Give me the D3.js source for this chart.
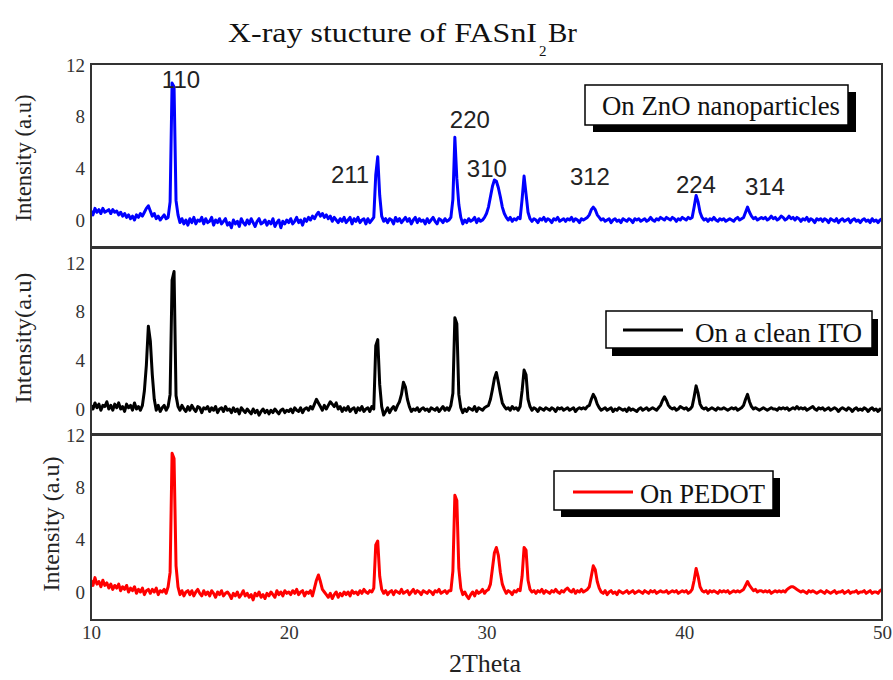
<!DOCTYPE html>
<html>
<head>
<meta charset="utf-8">
<script src="https://cdn.jsdelivr.net/npm/d3@7"></script>
<style>
  body { margin: 0; background: #fff; }
  svg { display: block; }
</style>
</head>
<body>
<svg id="chart" width="893" height="680"></svg>
<script>
// XRD patterns of FASnI2Br films, sampled every 0.1 degree from 2θ = 10 to 50
const thetaStart = 10;
const thetaStep = 0.1;

// Film on ZnO nanoparticles (one row per degree)
const znoIntensity = [
  0.7, 0.4, 0.9, 0.6, 0.8, 0.5, 0.9, 0.6, 0.7, 0.8,
  0.5, 0.8, 0.6, 0.7, 0.4, 0.6, 0.3, 0.5, 0.2, 0.4,
  0.1, 0.3, 0.0, 0.4, 0.2, 0.5, 0.3, 0.6, 0.9, 1.1,
  0.7, 0.3, 0.5, 0.1, 0.3, 0.0, 0.2, 0.4, 0.1, 0.2,
  1.4, 10.6, 10.3, 1.5, 0.4, -0.2, 0.1, -0.3, 0.0, -0.4,
  0.1, -0.2, 0.2, -0.3, 0.0, -0.1, 0.2, -0.3, 0.1, -0.2,
  -0.1, 0.2, -0.4, 0.0, -0.2, 0.1, -0.3, -0.1, 0.1, -0.4,
  -0.2, -0.6, 0.0, -0.3, -0.1, -0.5, 0.1, -0.2, -0.4, 0.0,
  -0.3, 0.1, -0.2, -0.5, -0.1, 0.1, -0.3, -0.2, 0.0, -0.4,
  -0.1, -0.3, 0.1, -0.5, -0.2, 0.0, -0.6, -0.1, -0.3, 0.0,
  -0.2, 0.1, -0.3, -0.1, 0.2, -0.2, 0.0, -0.4, 0.1, -0.1,
  0.2, 0.0, 0.3, 0.1, 0.4, 0.6, 0.3, 0.5, 0.2, 0.4,
  0.1, 0.3, -0.1, 0.2, 0.0, -0.2, 0.1, -0.1, 0.2, -0.2,
  0.0, 0.2, -0.3, 0.1, -0.1, 0.2, -0.2, 0.0, 0.1, -0.3,
  0.1, -0.2, 0.0, 0.2, 3.5, 4.9, 1.9, 0.3, -0.1, 0.1,
  -0.2, 0.1, 0.0, -0.3, 0.2, -0.1, 0.1, -0.2, 0.0, 0.2,
  -0.1, 0.1, -0.3, 0.0, 0.2, -0.2, 0.1, -0.1, 0.0, -0.3,
  0.1, -0.2, 0.0, 0.2, -0.1, -0.3, 0.1, 0.0, -0.2, 0.1,
  -0.1, 0.0, 0.2, 1.6, 6.4, 3.2, 1.2, 0.2, -0.3, 0.0,
  -0.2, 0.1, -0.1, 0.0, 0.2, -0.2, 0.1, -0.1, 0.0, 0.2,
  0.5, 1.0, 1.8, 2.6, 3.1, 3.0, 2.5, 1.8, 1.0, 0.5,
  0.2, 0.0, 0.2, -0.1, 0.1, 0.0, 0.2, 0.1, 1.6, 3.4,
  2.0, 0.6, 0.1, -0.1, 0.1, 0.0, -0.2, 0.1, 0.0, 0.2,
  -0.1, 0.1, 0.0, -0.2, 0.1, 0.0, 0.2, -0.1, 0.0, 0.1,
  -0.1, 0.1, 0.0, 0.2, -0.1, 0.1, 0.0, -0.2, 0.1, 0.0,
  0.1, 0.2, 0.4, 0.8, 1.0, 0.8, 0.4, 0.2, 0.0, 0.1,
  -0.1, 0.0, 0.1, -0.2, 0.0, 0.1, -0.1, 0.0, -0.2, 0.1,
  0.0, -0.1, 0.1, 0.0, -0.2, 0.1, 0.0, 0.1, -0.1, 0.0,
  0.1, -0.1, 0.0, 0.2, 0.0, -0.1, 0.1, 0.0, 0.2, 0.1,
  0.0, 0.2, 0.1, 0.0, 0.2, 0.1, -0.1, 0.1, 0.0, 0.2,
  0.1, 0.0, 0.2, 0.1, 0.2, 1.0, 1.9, 1.4, 0.6, 0.2,
  0.0, 0.1, -0.1, 0.1, 0.0, 0.2, 0.0, -0.1, 0.1, 0.0,
  0.1, -0.1, 0.0, 0.1, 0.0, -0.1, 0.1, 0.2, 0.0, 0.1,
  0.2, 0.6, 1.0, 0.6, 0.3, 0.1, 0.2, 0.0, 0.1, 0.2,
  0.1, 0.2, 0.0, 0.1, 0.3, 0.1, 0.2, 0.0, 0.1, 0.3,
  0.2, 0.0, 0.1, 0.3, 0.1, 0.2, 0.0, 0.2, 0.1, -0.1,
  0.1, 0.0, 0.2, -0.1, 0.1, 0.0, -0.2, 0.1, 0.0, 0.1,
  -0.1, 0.1, 0.0, -0.2, 0.1, 0.0, -0.1, 0.1, -0.2, 0.0,
  0.1, -0.1, 0.0, 0.1, -0.2, 0.0, 0.1, -0.1, 0.0, -0.2,
  0.0, 0.1, -0.1, 0.0, -0.2, 0.1, -0.1, 0.0, -0.2, 0.0,
  0.1
];

// Film on a clean ITO substrate
const itoIntensity = [
  0.3, 0.0, 0.5, 0.1, 0.4, -0.1, 0.3, 0.2, 0.6, 0.0,
  0.3, -0.1, 0.4, 0.1, 0.5, 0.0, 0.2, -0.2, 0.4, 0.1,
  0.3, -0.1, 0.5, 0.0, 0.2, -0.1, 0.3, 1.5, 3.6, 6.8,
  5.6, 2.8, 0.8, -0.1, 0.3, -0.2, 0.1, 0.3, -0.1, 0.2,
  1.2, 10.6, 11.3, 1.1, 0.2, -0.1, 0.3, 0.0, -0.2, 0.2,
  -0.1, 0.3, 0.0, -0.2, 0.2, 0.1, -0.3, 0.1, 0.0, 0.2,
  -0.2, 0.1, -0.1, 0.2, -0.3, 0.0, 0.1, -0.2, 0.2, -0.1,
  0.0, -0.3, 0.1, -0.2, 0.0, -0.4, 0.1, -0.1, -0.3, 0.0,
  -0.2, -0.4, 0.0, -0.3, -0.1, -0.5, -0.2, 0.0, -0.3, -0.1,
  -0.4, -0.1, -0.3, 0.0, -0.2, -0.4, -0.1, 0.0, -0.3, -0.1,
  -0.2, 0.0, -0.3, 0.1, -0.1, -0.2, 0.1, -0.3, 0.0, 0.1,
  -0.1, 0.2, 0.0, 0.4, 0.8, 0.5, 0.2, -0.1, 0.3, 0.0,
  0.3, 0.6, 0.4, 0.2, 0.5, 0.0, 0.2, -0.2, 0.1, -0.1,
  0.2, -0.2, 0.0, 0.1, -0.3, 0.1, -0.1, 0.2, -0.2, 0.0,
  0.1, -0.2, 0.2, 0.0, 5.2, 5.7, 2.0, 0.2, -0.5, -0.2,
  0.1, -0.3, 0.0, 0.2, -0.1, 0.3, 0.6, 1.2, 2.2, 1.8,
  0.8, 0.2, -0.2, 0.0, -0.1, 0.1, -0.2, 0.0, 0.1, -0.1,
  0.0, -0.2, 0.1, 0.0, -0.1, 0.1, -0.2, 0.0, 0.2, -0.1,
  0.1, -0.1, 0.3, 1.3, 7.5, 7.0, 1.2, 0.1, -0.3, 0.0,
  -0.2, 0.1, 0.0, -0.1, 0.2, -0.2, 0.1, 0.0, -0.1, 0.1,
  0.2, 0.3, 0.8, 1.6, 2.5, 3.0, 2.2, 1.3, 0.5, 0.2,
  0.0, 0.1, -0.1, 0.2, 0.0, 0.1, -0.1, 0.2, 1.5, 3.2,
  2.8, 0.8, 0.2, -0.1, 0.1, 0.0, -0.2, 0.1, 0.0, -0.1,
  0.1, 0.0, -0.1, 0.1, 0.0, -0.2, 0.1, 0.0, 0.1, -0.1,
  0.0, 0.1, -0.1, 0.0, 0.1, -0.2, 0.0, 0.1, 0.0, 0.1,
  0.0, 0.2, 0.3, 0.8, 1.2, 0.9, 0.4, 0.1, -0.1, 0.0,
  0.1, -0.1, 0.0, 0.1, -0.2, 0.0, -0.1, 0.1, 0.0, -0.1,
  0.0, -0.2, 0.1, -0.1, 0.0, -0.1, -0.2, 0.0, 0.1, -0.1,
  0.0, 0.1, -0.1, 0.0, 0.1, 0.0, -0.1, 0.1, 0.3, 0.7,
  1.0, 0.7, 0.3, 0.1, 0.0, 0.1, -0.1, 0.0, 0.2, 0.1,
  0.0, 0.1, -0.1, 0.0, 0.2, 1.0, 1.9, 1.3, 0.4, 0.1,
  0.0, 0.1, -0.1, 0.0, 0.1, 0.0, -0.1, 0.1, 0.0, 0.0,
  0.1, 0.0, -0.1, 0.0, 0.1, 0.0, 0.1, -0.1, 0.0, 0.1,
  0.3, 0.8, 1.2, 0.6, 0.2, 0.0, 0.1, 0.0, -0.1, 0.0,
  0.1, 0.0, -0.1, 0.0, 0.1, 0.0, 0.0, -0.1, 0.1, 0.0,
  0.1, 0.0, 0.1, -0.1, 0.0, 0.1, 0.0, 0.2, 0.0, 0.1,
  0.0, 0.1, -0.1, 0.0, 0.1, 0.2, 0.0, -0.1, 0.1, 0.0,
  0.1, -0.1, 0.0, 0.1, -0.1, 0.0, 0.1, 0.0, -0.2, 0.0,
  0.1, 0.0, -0.1, 0.1, 0.0, -0.2, 0.0, 0.1, -0.1, 0.0,
  -0.1, 0.1, 0.0, -0.2, 0.0, 0.1, -0.1, 0.0, -0.2, 0.0,
  -0.1
];

// Film on PEDOT
const pedotIntensity = [
  0.9, 0.5, 1.1, 0.6, 0.8, 0.4, 0.9, 0.5, 0.7, 0.3,
  0.6, 0.2, 0.5, 0.3, 0.6, 0.1, 0.4, 0.2, 0.5, 0.0,
  0.3, 0.1, 0.4, -0.1, 0.2, 0.0, 0.3, -0.2, 0.1, 0.2,
  -0.1, 0.2, 0.0, 0.3, -0.2, 0.1, 0.0, 0.2, -0.1, 0.4,
  1.5, 10.6, 10.2, 2.0, 0.4, -0.2, 0.1, -0.3, 0.0, 0.1,
  -0.2, 0.1, -0.3, 0.0, 0.2, -0.1, -0.3, 0.1, -0.2, 0.0,
  -0.3, 0.1, -0.1, -0.4, 0.0, -0.2, 0.1, -0.3, -0.1, 0.0,
  -0.2, -0.5, -0.1, -0.3, 0.0, -0.4, -0.2, 0.1, -0.3, -0.1,
  -0.4, -0.2, -0.6, -0.1, -0.3, 0.0, -0.4, -0.2, -0.5, -0.1,
  -0.3, 0.0, -0.2, -0.4, 0.1, -0.2, 0.0, -0.3, 0.1, -0.1,
  0.0, -0.2, 0.1, -0.1, 0.2, -0.2, 0.0, 0.1, -0.3, 0.0,
  -0.1, 0.1, -0.3, 0.3, 0.9, 1.3, 0.8, 0.2, 0.0, -0.2,
  -0.4, -0.1, -0.5, -0.2, 0.0, -0.4, -0.1, -0.3, 0.0, -0.2,
  0.0, -0.3, 0.1, -0.1, 0.0, -0.2, 0.1, -0.1, 0.2, 0.0,
  -0.1, 0.1, 0.0, 0.3, 3.6, 3.9, 1.2, 0.2, -0.1, 0.1,
  -0.2, 0.0, 0.1, -0.2, 0.1, 0.0, -0.1, 0.2, -0.1, 0.0,
  0.1, -0.2, 0.0, 0.2, -0.1, 0.1, 0.0, -0.2, 0.1, 0.0,
  -0.1, 0.1, 0.0, -0.2, 0.1, 0.0, 0.2, -0.1, 0.0, 0.1,
  -0.1, 0.1, 0.1, 1.6, 7.4, 7.0, 1.8, 0.3, -0.2, 0.0,
  -0.3, -0.5, -0.2, 0.0, -0.3, 0.1, -0.1, 0.0, 0.2, -0.1,
  0.1, 0.2, 0.6, 1.8, 3.0, 3.4, 2.8, 1.5, 0.6, 0.2,
  -0.1, 0.1, 0.0, -0.2, 0.1, 0.0, 0.2, 0.1, 1.2, 3.4,
  3.2, 0.9, 0.2, 0.0, 0.1, -0.1, 0.1, 0.0, 0.2, -0.1,
  0.1, 0.0, -0.1, 0.1, 0.0, 0.2, 0.0, -0.1, 0.1, 0.0,
  0.2, 0.3, 0.1, 0.0, 0.2, -0.1, 0.1, 0.0, 0.2, 0.0,
  0.1, 0.2, 0.4, 1.2, 2.0, 1.7, 0.8, 0.3, 0.0, -0.1,
  0.1, -0.2, 0.0, 0.1, -0.1, 0.0, -0.2, 0.1, 0.0, -0.1,
  0.0, 0.1, -0.1, 0.0, 0.1, -0.1, 0.0, 0.1, 0.0, -0.1,
  0.1, 0.0, -0.1, 0.1, 0.0, 0.1, -0.1, 0.0, 0.1, 0.0,
  0.0, 0.1, -0.1, 0.0, 0.1, 0.0, 0.1, -0.1, 0.0, 0.1,
  0.0, 0.1, -0.1, 0.0, 0.2, 0.9, 1.8, 1.2, 0.4, 0.1,
  0.0, 0.1, -0.1, 0.1, 0.0, 0.1, 0.0, -0.1, 0.1, 0.0,
  0.1, 0.0, 0.1, -0.1, 0.0, 0.1, 0.0, 0.1, 0.0, 0.1,
  0.2, 0.5, 0.8, 0.5, 0.3, 0.1, 0.2, 0.0, 0.1, 0.1,
  0.0, 0.1, 0.0, 0.1, -0.1, 0.0, 0.1, 0.0, 0.1, 0.0,
  0.1, 0.0, 0.2, 0.3, 0.4, 0.4, 0.3, 0.2, 0.1, 0.0,
  0.1, 0.0, -0.1, 0.1, 0.0, 0.1, 0.0, -0.1, 0.0, 0.1,
  0.0, -0.1, 0.1, 0.0, -0.1, 0.0, 0.1, -0.1, 0.0, 0.0,
  0.1, -0.1, 0.0, 0.1, -0.1, 0.0, 0.0, 0.1, -0.1, 0.0,
  0.0, 0.1, -0.1, 0.0, 0.1, -0.1, 0.0, 0.0, -0.1, 0.1,
  0.2
];

const seriesNames = ["On ZnO nanoparticles", "On a clean ITO", "On PEDOT"];
const yAxisTitles = ["Intensity (a.u)", "Intensity(a.u)", "Intensity (a.u)"];

// Miller indices marked on the ZnO pattern, with the (2θ, intensity) point each label sits at
const hklLabels = ["110", "211", "220", "310", "312", "224", "314"];
const hklTheta = [14.55, 23.1, 29.16, 30.02, 35.23, 40.59, 44.08];
const hklIntensity = [10.2, 2.9, 7.1, 3.3, 2.7, 2.1, 1.9];

const xTicks = [10, 20, 30, 40, 50];
const yTicks = [0, 4, 8, 12];

// ---- layout and styling ----
const seriesColors = ["#0000ff", "#000000", "#ff0000"];
const serif = "'Liberation Serif', 'Times New Roman', serif";
const sans = "'Liberation Sans', Arial, sans-serif";
const plotLeft = 91, plotRight = 882;

const panelLayout = [
  { top: 64, bottom: 247, zeroY: 220, twelveY: 65,
    legend: { x: 585, y: 85, w: 263, h: 40, dx: 8, dy: 7, textX: 602, textY: 115, textLen: 238, sample: false },
    title: { x: 31, y: 158, len: 127 } },
  { top: 248, bottom: 434, zeroY: 409, twelveY: 263,
    legend: { x: 606, y: 311, w: 266, h: 37, dx: 6, dy: 8, textX: 695, textY: 342, textLen: 167, sample: [623, 683, 330] },
    title: { x: 31, y: 338, len: 131 } },
  { top: 435, bottom: 620, zeroY: 592, twelveY: 435,
    legend: { x: 554, y: 471, w: 219, h: 39, dx: 7, dy: 7, textX: 640, textY: 503, textLen: 125, sample: [573, 633, 492] },
    title: { x: 59, y: 524, len: 135 } }
];

const intensities = [znoIntensity, itoIntensity, pedotIntensity];

const svg = d3.select("#chart");
const x = d3.scaleLinear().domain([10, 50]).range([plotLeft, plotRight]);

// Title with subscript
const title = svg.append("g").attr("font-family", serif).attr("fill", "#111");
title.append("text").attr("x", 228).attr("y", 42).attr("font-size", 28)
  .attr("textLength", 309).attr("lengthAdjust", "spacingAndGlyphs")
  .text("X-ray stucture of FASnI");
title.append("text").attr("x", 539).attr("y", 56).attr("font-size", 15).text("2");
title.append("text").attr("x", 548).attr("y", 42).attr("font-size", 28)
  .attr("textLength", 29).attr("lengthAdjust", "spacingAndGlyphs").text("Br");

panelLayout.forEach((p, k) => {
  const y = d3.scaleLinear().domain([0, 12]).range([p.zeroY, p.twelveY]);
  const g = svg.append("g");

  const clipId = "clip" + k;
  svg.append("clipPath").attr("id", clipId)
    .append("rect").attr("x", plotLeft).attr("y", p.top)
    .attr("width", plotRight - plotLeft).attr("height", p.bottom - p.top);

  const points = intensities[k].map((v, i) => [thetaStart + i * thetaStep, v]);
  const line = d3.line().x(d => x(d[0])).y(d => y(d[1]));

  g.append("path").datum(points)
    .attr("clip-path", `url(#${clipId})`)
    .attr("fill", "none")
    .attr("stroke", seriesColors[k])
    .attr("stroke-width", 3)
    .attr("stroke-linejoin", "round")
    .attr("d", line);

  // frame
  g.append("rect").attr("x", plotLeft).attr("y", p.top)
    .attr("width", plotRight - plotLeft).attr("height", p.bottom - p.top)
    .attr("fill", "none").attr("stroke", "#333").attr("stroke-width", 2);

  // y axis labels
  const yAxis = d3.axisLeft(y).tickValues(yTicks).tickSize(0).tickPadding(6);
  const ya = g.append("g").attr("transform", `translate(${plotLeft},0)`).call(yAxis);
  ya.attr("font-family", serif);
  ya.select(".domain").remove();
  ya.selectAll("text").attr("font-family", serif).attr("font-size", 19).attr("fill", "#333");

  // y title
  g.append("text")
    .attr("transform", `translate(${p.title.x},${p.title.y}) rotate(-90)`)
    .attr("text-anchor", "middle")
    .attr("font-family", serif).attr("font-size", 23).attr("fill", "#222")
    .attr("textLength", p.title.len).attr("lengthAdjust", "spacingAndGlyphs")
    .text(yAxisTitles[k]);

  // legend box with drop shadow
  const L = p.legend;
  g.append("rect").attr("x", L.x + L.dx).attr("y", L.y + L.dy)
    .attr("width", L.w).attr("height", L.h).attr("fill", "#000");
  g.append("rect").attr("x", L.x).attr("y", L.y)
    .attr("width", L.w).attr("height", L.h)
    .attr("fill", "#fff").attr("stroke", "#000").attr("stroke-width", 1.5);
  if (L.sample) {
    g.append("line").attr("x1", L.sample[0]).attr("x2", L.sample[1])
      .attr("y1", L.sample[2]).attr("y2", L.sample[2])
      .attr("stroke", seriesColors[k]).attr("stroke-width", 3);
  }
  g.append("text").attr("x", L.textX).attr("y", L.textY)
    .attr("font-family", serif).attr("font-size", 28).attr("fill", "#111")
    .attr("textLength", L.textLen).attr("lengthAdjust", "spacingAndGlyphs")
    .text(seriesNames[k]);

  // Miller index labels on the first pattern
  if (k === 0) {
    g.selectAll("text.hkl").data(hklLabels).join("text")
      .attr("class", "hkl")
      .attr("x", (d, i) => x(hklTheta[i]))
      .attr("y", (d, i) => y(hklIntensity[i]))
      .attr("text-anchor", "middle")
      .attr("font-family", sans).attr("font-size", 24).attr("fill", "#222")
      .text(d => d);
  }

  // x tick labels under the last panel
  if (k === panelLayout.length - 1) {
    const xAxis = d3.axisBottom(x).tickValues(xTicks).tickSize(0).tickPadding(6);
    const xa = g.append("g").attr("transform", `translate(0,${p.bottom})`).call(xAxis);
    xa.attr("font-family", serif);
    xa.select(".domain").remove();
    xa.selectAll("text").attr("font-family", serif).attr("font-size", 19).attr("fill", "#333");
  }
});

svg.append("text").attr("x", 485).attr("y", 672)
  .attr("text-anchor", "middle")
  .attr("font-family", serif).attr("font-size", 26).attr("fill", "#222")
  .text("2Theta");
</script>
</body>
</html>
